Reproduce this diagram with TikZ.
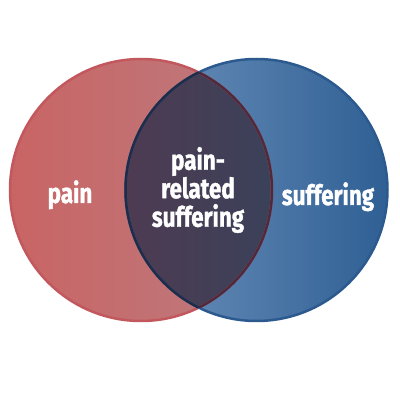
\documentclass[tikz,border=0pt]{standalone}
\usepackage{fontspec}
\setmainfont{Fira Sans}[FakeStretch=0.8, BoldFeatures={FakeBold=1.2}]
\usepackage{xcolor}
\usetikzlibrary{positioning}
\definecolor{painL}{HTML}{C96464}
\definecolor{painR}{HTML}{BC7C80}
\definecolor{sufL}{HTML}{6E93BD}
\definecolor{sufR}{HTML}{2F5F94}
\definecolor{bothL}{HTML}{4E3B52}
\definecolor{bothR}{HTML}{3A4159}
\definecolor{painEdge}{HTML}{C2585E}
\definecolor{sufEdge}{HTML}{2C5A8E}
\definecolor{navyEdge}{HTML}{1F2C4A}
\definecolor{plumEdge}{HTML}{4E2A3C}

\begin{document}
\begin{tikzpicture}[x=1pt,y=1pt]
   \tikzstyle{lbl}=[text=white, font=\bfseries\fontsize{28}{28.5}\selectfont, align=center, inner sep=0pt]
   \def\rad{131}
   \useasboundingbox (0,0) rectangle (400,400);
   \coordinate (P) at (141,210);
   \coordinate (S) at (256.5,210);
   %% discs
 \shade[left color=painL, right color=painR] (P) circle (\rad);
 \shade[left color=sufL, right color=sufR] (S) circle (\rad);
 \begin{scope}
   \clip (P) circle (\rad);
   \clip (S) circle (\rad);
   \shade[left color=bothL, right color=bothR] (125,70) rectangle (272,350);
 \end{scope}
   %% rims
 \draw[line width=2.5pt, painEdge] (P) circle (\rad);
 \draw[line width=2.5pt, sufEdge] (S) circle (\rad);
 \begin{scope}
   \clip (S) circle (\rad);
   \draw[line width=2.5pt, plumEdge] (P) circle (\rad);
 \end{scope}
 \begin{scope}
   \clip (P) circle (\rad);
   \draw[line width=2.5pt, navyEdge] (S) circle (\rad);
 \end{scope}
   %% labels
\node[lbl, anchor=base] (pain) at (70,197) {pain};
\node[lbl, anchor=base] (suf) at (328,195) {suffering};
\node[lbl] (both) at (198,210) {pain-\\related\\suffering};
    \end{tikzpicture}
\end{document}
